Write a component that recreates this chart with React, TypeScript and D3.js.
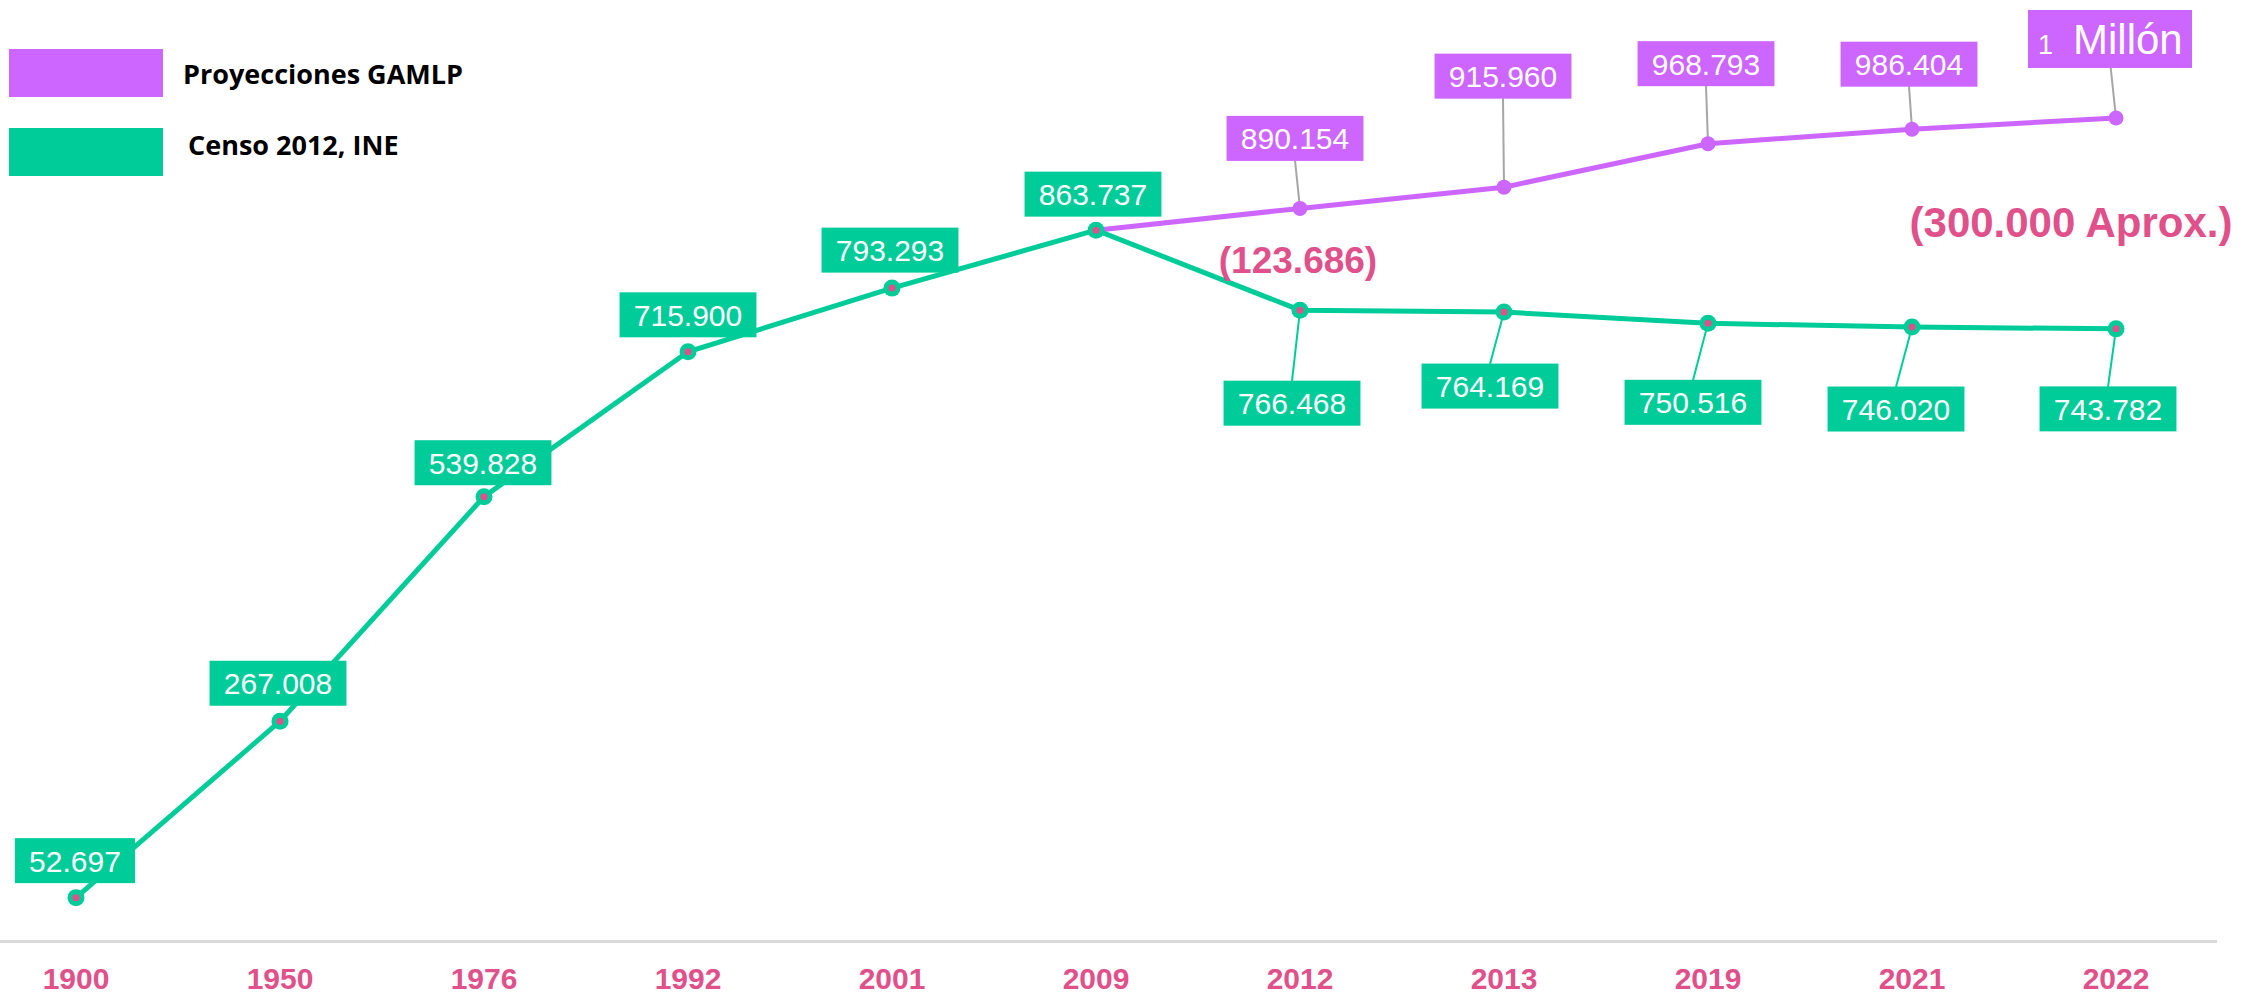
import React from 'react';
import * as d3 from 'd3';

const years = ['1900', '1950', '1976', '1992', '2001', '2009', '2012', '2013', '2019', '2021', '2022'];
const censo = [52697, 267008, 539828, 715900, 793293, 863737, 766468, 764169, 750516, 746020, 743782];
const proyYears = ['2009', '2012', '2013', '2019', '2021', '2022'];
const proyecciones = [863737, 890154, 915960, 968793, 986404, 1000000];
const proyLabels = ['', '890.154', '915.960', '968.793', '986.404', '1 Millón'];
const censoLabels = ['52.697', '267.008', '539.828', '715.900', '793.293', '863.737', '766.468', '764.169', '750.516', '746.020', '743.782'];

// label box offsets from the point (layout only)
const censoOffsets = [[-1, -37], [-2, -38], [-1, -34], [0, -37], [-2, -38], [-3, -36], [-8, 93], [-14, 74], [-15, 79], [-16, 82], [-8, 80]];
const proyOffsets = [[0, 0], [-5, -70], [-1, -111], [-2, -80], [-3, -65], [-6, -79]];

const W = 2241;
const H = 994;
const GREEN = '#00cc99';
const PURPLE = '#cc66ff';
const PINK = '#e0508a';
const FONT = 'Liberation Sans, Arial, sans-serif';

const x = d3.scalePoint<string>().domain(years).range([76, 2116]);
const y = d3.scaleLinear().domain([0, 1000000]).range([941, 118]);

const line = d3
  .line<[string, number]>()
  .x((d) => x(d[0]) as number)
  .y((d) => y(d[1]));

const textWidth = (s: string) => s.length * 16.7 - 8;

const App = () => {
  const censoPts = years.map((yr, i) => [yr, censo[i]] as [string, number]);
  const proyPts = proyYears.map((yr, i) => [yr, proyecciones[i]] as [string, number]);

  return (
    <svg width={W} height={H} style={{ position: 'absolute', left: 0, top: 0, background: '#fff' }}>
      {/* legend */}
      <rect x={9} y={49} width={154} height={48} fill={PURPLE} />
      <rect x={9} y={128} width={154} height={48} fill={GREEN} />
      <text x={183} y={84} fontFamily="Open Sans, sans-serif" fontWeight={700} fontSize={27} fill="#000">
        Proyecciones GAMLP
      </text>
      <text x={188} y={155} fontFamily="Open Sans, sans-serif" fontWeight={700} fontSize={27} fill="#000">
        Censo 2012, INE
      </text>

      {/* axis */}
      <line x1={0} x2={2217} y1={941.5} y2={941.5} stroke="#d9d9d9" strokeWidth={3} />
      {years.map((yr) => (
        <text
          key={yr}
          x={x(yr)}
          y={989}
          textAnchor="middle"
          fontFamily={FONT}
          fontWeight={700}
          fontSize={30}
          fill={PINK}
        >
          {yr}
        </text>
      ))}

      {/* leader lines */}
      {proyPts.map((d, i) => {
        if (!proyLabels[i]) return null;
        const px = x(d[0]) as number;
        const py = y(d[1]);
        const [dx, dy] = proyOffsets[i];
        return <line key={'pl' + i} x1={px} y1={py} x2={px + dx} y2={py + dy + 22} stroke="#a6a6a6" strokeWidth={2} />;
      })}
      {censoPts.map((d, i) => {
        const [dx, dy] = censoOffsets[i];
        if (dy < 0) return null;
        const px = x(d[0]) as number;
        const py = y(d[1]);
        return <line key={'cl' + i} x1={px} y1={py} x2={px + dx} y2={py + dy - 22} stroke={GREEN} strokeWidth={2} />;
      })}

      {/* lines */}
      <path d={line(proyPts) || ''} fill="none" stroke={PURPLE} strokeWidth={5} />
      <path d={line(censoPts) || ''} fill="none" stroke={GREEN} strokeWidth={5} />

      {/* markers */}
      {proyPts.slice(1).map((d, i) => (
        <circle key={'pm' + i} cx={x(d[0])} cy={y(d[1])} r={7.5} fill={PURPLE} />
      ))}
      {censoPts.map((d, i) => (
        <g key={'cm' + i}>
          <circle cx={x(d[0])} cy={y(d[1])} r={8.5} fill={GREEN} />
          <circle cx={x(d[0])} cy={y(d[1])} r={3.5} fill={PINK} />
        </g>
      ))}

      {/* labels */}
      {censoPts.map((d, i) => {
        const [dx, dy] = censoOffsets[i];
        const cx = (x(d[0]) as number) + dx;
        const cy = y(d[1]) + dy;
        const w = textWidth(censoLabels[i]) + 28;
        return (
          <g key={'clb' + i}>
            <rect x={cx - w / 2} y={cy - 22.5} width={w} height={45} fill={GREEN} />
            <text x={cx} y={cy + 11} textAnchor="middle" fontFamily={FONT} fontSize={30} fill="#fff">
              {censoLabels[i]}
            </text>
          </g>
        );
      })}
      {proyPts.map((d, i) => {
        const lbl = proyLabels[i];
        if (!lbl) return null;
        const [dx, dy] = proyOffsets[i];
        const cx = (x(d[0]) as number) + dx;
        const cy = y(d[1]) + dy;
        if (lbl === '1 Millón') {
          return (
            <g key={'plb' + i}>
              <rect x={cx - 82} y={cy - 29} width={164} height={58} fill={PURPLE} />
              <text x={cx - 72} y={cy + 15} fontFamily={FONT} fill="#fff">
                <tspan fontSize={27}>1</tspan>
                <tspan fontSize={42} dx={20}>Millón</tspan>
              </text>
            </g>
          );
        }
        const w = textWidth(lbl) + 28;
        return (
          <g key={'plb' + i}>
            <rect x={cx - w / 2} y={cy - 22.5} width={w} height={45} fill={PURPLE} />
            <text x={cx} y={cy + 11} textAnchor="middle" fontFamily={FONT} fontSize={30} fill="#fff">
              {lbl}
            </text>
          </g>
        );
      })}

      {/* annotations */}
      <text x={1298} y={273} textAnchor="middle" fontFamily={FONT} fontWeight={700} fontSize={37} fill={PINK}>
        (123.686)
      </text>
      <text x={2071} y={237} textAnchor="middle" fontFamily={FONT} fontWeight={700} fontSize={42} fill={PINK}>
        (300.000 Aprox.)
      </text>
    </svg>
  );
};

export default App;
